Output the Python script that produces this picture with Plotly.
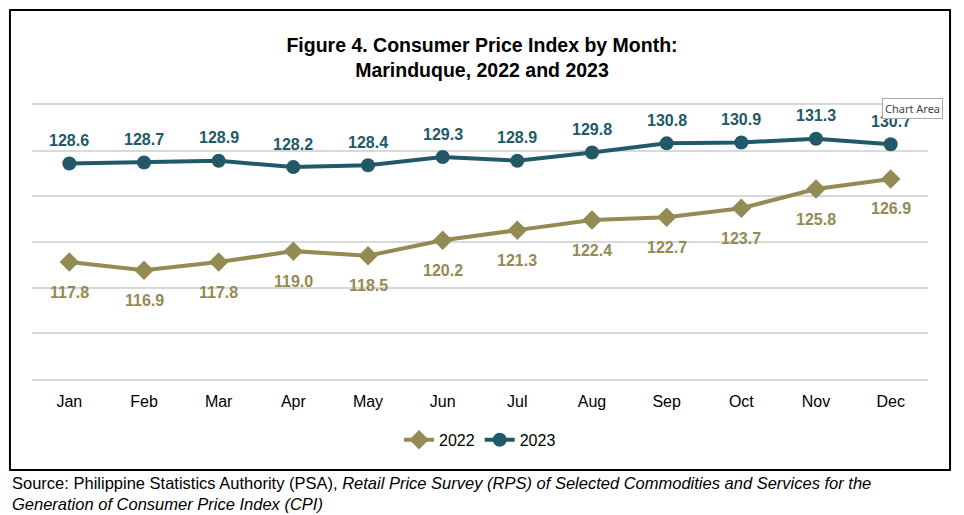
import plotly.graph_objects as go

months = ["Jan", "Feb", "Mar", "Apr", "May", "Jun", "Jul", "Aug", "Sep", "Oct", "Nov", "Dec"]
cpi_2022 = [117.8, 116.9, 117.8, 119.0, 118.5, 120.2, 121.3, 122.4, 122.7, 123.7, 125.8, 126.9]
cpi_2023 = [128.6, 128.7, 128.9, 128.2, 128.4, 129.3, 128.9, 129.8, 130.8, 130.9, 131.3, 130.7]

c22 = "#948A54"
c23 = "#215968"

fig = go.Figure()
fig.add_trace(go.Scatter(x=months, y=cpi_2022, name="2022", mode="lines+markers",
                         line=dict(color=c22, width=4),
                         marker=dict(symbol="diamond", size=15, color=c22)))
fig.add_trace(go.Scatter(x=months, y=cpi_2023, name="2023", mode="lines+markers",
                         line=dict(color=c23, width=4),
                         marker=dict(symbol="circle", size=14, color=c23)))

annotations = []
for m, v in zip(months, cpi_2022):
    annotations.append(dict(x=m, y=v, text=f"{v:.1f}", showarrow=False, yshift=-30,
                            font=dict(family="Arial", size=16, color=c22, weight="bold")))
for m, v in zip(months, cpi_2023):
    annotations.append(dict(x=m, y=v, text=f"{v:.1f}", showarrow=False, yshift=23,
                            font=dict(family="Arial", size=16, color=c23, weight="bold")))

annotations.append(dict(xref="paper", yref="paper", x=-0.0246, y=-0.338, xanchor="left", yanchor="top",
                        align="left", showarrow=False,
                        text="Source: Philippine Statistics Authority (PSA), <i>Retail Price Survey (RPS) of Selected Commodities and Services for the<br>Generation of Consumer Price Index (CPI)</i>",
                        font=dict(family="Arial", size=16.5, color="black")))
annotations.append(dict(xref="paper", yref="paper", x=0.983, y=0.989, xanchor="center", yanchor="middle",
                        showarrow=False, text="Chart Area", bgcolor="white", bordercolor="#aaaaaa",
                        borderwidth=1, borderpad=2,
                        font=dict(family="Noto Sans, sans-serif", size=11, color="#444444")))

fig.update_layout(
    width=964, height=515,
    margin=dict(l=32, r=36, t=105, b=136, autoexpand=False),
    paper_bgcolor="white", plot_bgcolor="white",
    title=dict(text="<b>Figure 4. Consumer Price Index by Month:<br>Marinduque, 2022 and 2023</b>",
               x=0.5, xanchor="center", y=0.899, yanchor="middle",
               font=dict(family="Arial", size=19.5, color="black")),
    xaxis=dict(showgrid=False, showline=True, mirror=True, linecolor="#d9d9d9", linewidth=2,
               ticks="outside", ticklen=7, tickcolor="rgba(0,0,0,0)",
               tickfont=dict(family="Arial", size=16, color="black"),
               range=[-0.5, 11.5]),
    yaxis=dict(range=[105, 135], dtick=5, showticklabels=False, showgrid=True, gridcolor="#d9d9d9",
               gridwidth=2, zeroline=False, showline=False),
    legend=dict(orientation="h", x=0.5, xanchor="center", y=-0.222, yanchor="middle",
                font=dict(family="Arial", size=16, color="black")),
    showlegend=True,
    annotations=annotations,
    shapes=[dict(type="rect", xref="paper", yref="paper", x0=-0.0246, x1=1.0246, y0=-0.3321, y1=1.3467,
                 line=dict(color="black", width=2), fillcolor="rgba(0,0,0,0)", layer="below")],
)

fig.write_html("out.html", config={"displayModeBar": False},
               post_script="document.body.style.margin='0';document.body.style.overflow='hidden';")
